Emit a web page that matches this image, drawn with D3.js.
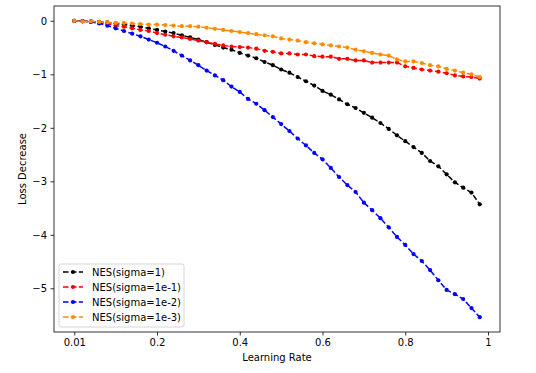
<!DOCTYPE html>
<html>
<head>
<meta charset="utf-8">
<script src="https://cdn.jsdelivr.net/npm/d3@7"></script>
<style>
  body { margin: 0; background: #fff; }
  svg { font-family: "DejaVu Sans", sans-serif; }
</style>
</head>
<body>
<div id="chart"></div>
<script>
// learning rates: 50 steps of 0.02 (the first tick is labelled 0.01)
const lr = d3.range(50).map(i => i * 0.02);
const xTicks = [0, 0.2, 0.4, 0.6, 0.8, 1];
const xTickLabels = ["0.01", "0.2", "0.4", "0.6", "0.8", "1"];
const yTicks = [0, -1, -2, -3, -4, -5];

const sigma1 = [0, -0.005, -0.01, -0.02, -0.03, -0.05, -0.07, -0.09, -0.11, -0.14,
  -0.17, -0.2, -0.23, -0.27, -0.31, -0.35, -0.4, -0.45, -0.5, -0.54,
  -0.6, -0.65, -0.7, -0.77, -0.83, -0.91, -0.97, -1.05, -1.13, -1.21,
  -1.31, -1.38, -1.47, -1.56, -1.63, -1.72, -1.81, -1.91, -2.02, -2.14,
  -2.25, -2.36, -2.47, -2.62, -2.72, -2.87, -3.02, -3.12, -3.21, -3.43];
const sigma1e1 = [0, -0.01, -0.02, -0.04, -0.06, -0.09, -0.11, -0.14, -0.17, -0.19,
  -0.23, -0.26, -0.29, -0.31, -0.34, -0.37, -0.4, -0.43, -0.46, -0.48,
  -0.49, -0.5, -0.52, -0.56, -0.58, -0.61, -0.61, -0.63, -0.63, -0.66,
  -0.67, -0.67, -0.71, -0.71, -0.74, -0.74, -0.78, -0.78, -0.78, -0.78,
  -0.85, -0.88, -0.91, -0.93, -0.95, -0.98, -1.02, -1.04, -1.05, -1.08];
const sigma1e2 = [0, -0.005, -0.02, -0.05, -0.09, -0.14, -0.19, -0.24, -0.29, -0.35,
  -0.41, -0.48, -0.56, -0.65, -0.74, -0.83, -0.93, -1.02, -1.11, -1.23,
  -1.33, -1.46, -1.55, -1.67, -1.8, -1.93, -2.06, -2.2, -2.33, -2.47,
  -2.59, -2.75, -2.92, -3.07, -3.2, -3.4, -3.54, -3.69, -3.86, -4.04,
  -4.19, -4.36, -4.49, -4.66, -4.85, -5.03, -5.11, -5.2, -5.37, -5.54];
const sigma1e3 = [0, -0.01, -0.01, -0.02, -0.03, -0.04, -0.04, -0.05, -0.06, -0.07,
  -0.07, -0.08, -0.09, -0.1, -0.1, -0.11, -0.13, -0.15, -0.17, -0.19,
  -0.21, -0.23, -0.25, -0.27, -0.29, -0.33, -0.35, -0.37, -0.4, -0.42,
  -0.44, -0.46, -0.48, -0.5, -0.54, -0.57, -0.6, -0.63, -0.65, -0.72,
  -0.76, -0.76, -0.79, -0.83, -0.85, -0.9, -0.93, -0.97, -1.0, -1.05];

const seriesNames = ["NES(sigma=1)", "NES(sigma=1e-1)", "NES(sigma=1e-2)", "NES(sigma=1e-3)"];
const seriesColors = ["#000000", "#ff0000", "#0000ff", "#ff8c00"];
const seriesValues = [sigma1, sigma1e1, sigma1e2, sigma1e3];

const W = 536, H = 373;
const margin = { top: 6, right: 36, bottom: 41, left: 54 };
const plotW = W - margin.left - margin.right;
const plotH = H - margin.top - margin.bottom;

const allVals = seriesValues.flat();
const yMin = d3.min(allVals), yMax = d3.max(allVals);
const yPad = (yMax - yMin) * 0.05;
const xPad = (d3.max(lr) - d3.min(lr)) * 0.05;

const x = d3.scaleLinear()
  .domain([d3.min(lr) - xPad, d3.max(lr) + xPad])
  .range([0, plotW]);
const y = d3.scaleLinear()
  .domain([yMin - yPad, yMax + yPad])
  .range([plotH, 0]);

const svg = d3.select("#chart").append("svg")
  .attr("width", W)
  .attr("height", H);

const g = svg.append("g")
  .attr("transform", `translate(${margin.left},${margin.top})`);

const minus = s => String(s).replace("-", "\u2212");

// axes
const xAxis = g.append("g")
  .attr("transform", `translate(0,${plotH})`)
  .call(d3.axisBottom(x).tickValues(xTicks).tickSize(3.5).tickPadding(3.5)
    .tickFormat((d, i) => xTickLabels[i]));
const yAxis = g.append("g")
  .call(d3.axisLeft(y).tickValues(yTicks).tickSize(3.5).tickPadding(3.5)
    .tickFormat(d => minus(d)));

[xAxis, yAxis].forEach(a => {
  a.select(".domain").remove();
  a.selectAll(".tick line").attr("stroke", "#000").attr("stroke-width", 0.8);
  a.selectAll(".tick text")
    .attr("fill", "#000")
    .style("font-size", "10px")
    .style("font-family", "DejaVu Sans, sans-serif");
});

// series
const line = d3.line()
  .x((d, i) => x(lr[i]))
  .y(d => y(d));

seriesValues.forEach((vals, k) => {
  const s = g.append("g").attr("class", "series");
  s.append("path")
    .datum(vals)
    .attr("fill", "none")
    .attr("stroke", seriesColors[k])
    .attr("stroke-width", 1.5)
    .attr("stroke-dasharray", "5.55,2.4")
    .attr("d", line);
  s.selectAll("circle")
    .data(vals)
    .join("circle")
    .attr("cx", (d, i) => x(lr[i]))
    .attr("cy", d => y(d))
    .attr("r", 2.1)
    .attr("fill", seriesColors[k]);
});

// frame
g.append("rect")
  .attr("width", plotW)
  .attr("height", plotH)
  .attr("fill", "none")
  .attr("stroke", "#000")
  .attr("stroke-width", 0.8);

// axis labels
svg.append("text")
  .attr("x", margin.left + plotW / 2)
  .attr("y", 361)
  .attr("text-anchor", "middle")
  .style("font-size", "10px")
  .text("Learning Rate");
svg.append("text")
  .attr("transform", `translate(25.5,${margin.top + plotH / 2}) rotate(-90)`)
  .attr("text-anchor", "middle")
  .style("font-size", "10px")
  .text("Loss Decrease");

// legend
const legend = g.append("g").attr("transform", "translate(5,258)");
legend.append("rect")
  .attr("width", 125)
  .attr("height", 63)
  .attr("rx", 2)
  .attr("fill", "#fff")
  .attr("fill-opacity", 0.8)
  .attr("stroke", "#cccccc")
  .attr("stroke-width", 0.8);
seriesNames.forEach((name, k) => {
  const row = legend.append("g").attr("transform", `translate(0,${8 + k * 15})`);
  row.append("line")
    .attr("x1", 4).attr("x2", 24)
    .attr("stroke", seriesColors[k])
    .attr("stroke-width", 1.5)
    .attr("stroke-dasharray", "5.55,2.4");
  row.append("circle")
    .attr("cx", 14).attr("r", 2.1)
    .attr("fill", seriesColors[k]);
  row.append("text")
    .attr("x", 33)
    .attr("dy", "0.35em")
    .style("font-size", "10px")
    .text(name);
});
</script>
</body>
</html>
